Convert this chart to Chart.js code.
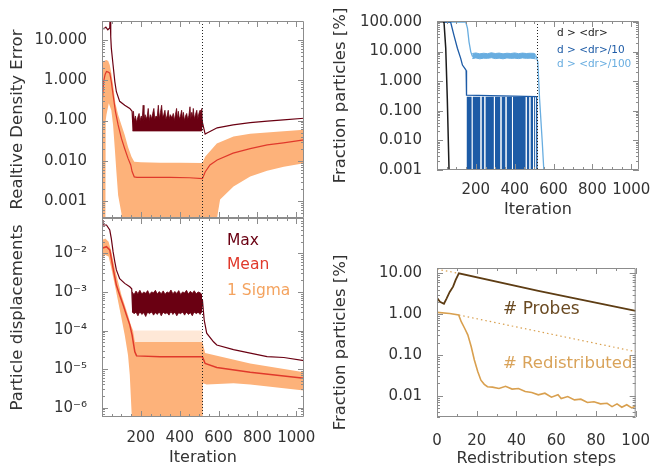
<!DOCTYPE html>
<html>
<head>
<meta charset="utf-8">
<title>Relaxation diagnostics</title>
<script src="https://cdn.jsdelivr.net/npm/chart.js@4.4.0/dist/chart.umd.min.js"></script>
<style>
  body { margin: 0; background: #fff; }
  #wrap { position: relative; width: 657px; height: 468px; }
  #wrap canvas { position: absolute; left: 0; top: 0; }
</style>
</head>
<body>
<div id="wrap">
  <canvas id="densChart" width="657" height="468"></canvas>
  <canvas id="dispChart" width="657" height="468"></canvas>
  <canvas id="fracChart" width="657" height="468"></canvas>
  <canvas id="redisChart" width="657" height="468"></canvas>
</div>
<script>
// ---- tick labels ----
const iterLabels = [200, 400, 600, 800, 1000];
const stepLabels = [0, 20, 40, 60, 80, 100];
const densTicks = [0.001, 0.01, 0.1, 1, 10];
const densTickText = ['0.001', '0.010', '0.100', '1.000', '10.000'];
const dispTicks = [1e-6, 1e-5, 1e-4, 1e-3, 1e-2];
const dispTickText = ['10⁻⁶', '10⁻⁵', '10⁻⁴', '10⁻³', '10⁻²'];
const fracTicks = [0.001, 0.01, 0.1, 1, 10, 100];
const fracTickText = ['0.001', '0.010', '0.100', '1.000', '10.000', '100.000'];
const redisTicks = [0.01, 0.1, 1, 10];
const redisTickText = ['0.01', '0.10', '1.00', '10.00'];

// iteration where the relaxation switches mode (dotted line)
const resetIter = 517;

// ---- relative density error ----
const densMaxIter = [0, 1, 10, 20, 30, 40, 42, 45, 48, 57, 66, 74, 91, 117, 143, 155, 160, 510, 517, 531, 541, 593, 675, 763, 851, 934, 1040];
const densMaxVal = [3.5, 20, 19, 21, 18, 20, 40, 12, 6.3, 2.4, 0.93, 0.52, 0.30, 0.24, 0.20, 0.17, 0.056, 0.056, 0.09, 0.046, 0.049, 0.066, 0.078, 0.089, 0.097, 0.104, 0.114];
const densNoiseIter = [158, 162, 166, 172, 178, 184, 191, 196, 202, 207, 212, 216, 222, 228, 233, 238, 243, 249, 255, 261, 267, 272, 278, 284, 290, 295, 301, 307, 312, 318, 324, 329, 335, 341, 346, 352, 358, 363, 367, 372, 378, 384, 388, 393, 398, 404, 410, 414, 419, 424, 430, 436, 441, 447, 453, 457, 462, 466, 470, 475, 481, 488, 493, 499, 505, 509, 514, 517];
const densNoiseHi = [0.12, 0.17, 0.10, 0.13, 0.09, 0.12, 0.15, 0.10, 0.13, 0.11, 0.24, 0.10, 0.14, 0.11, 0.13, 0.20, 0.10, 0.14, 0.11, 0.15, 0.20, 0.11, 0.13, 0.12, 0.24, 0.11, 0.16, 0.24, 0.12, 0.14, 0.18, 0.11, 0.13, 0.18, 0.11, 0.14, 0.12, 0.13, 0.15, 0.10, 0.14, 0.20, 0.11, 0.17, 0.11, 0.13, 0.18, 0.11, 0.16, 0.10, 0.13, 0.15, 0.11, 0.13, 0.22, 0.11, 0.16, 0.12, 0.20, 0.11, 0.14, 0.18, 0.11, 0.15, 0.18, 0.12, 0.20, 0.09];
const densNoiseLoIter = [158, 517];
const densNoiseLo = [0.056, 0.056];
const densMeanIter = [0, 8, 16, 23, 32, 40, 48, 57, 69, 83, 100, 117, 134, 148, 155, 166, 180, 250, 350, 450, 517, 531, 556, 593, 675, 763, 851, 934, 1040];
const densMeanVal = [0.24, 0.9, 1.4, 1.66, 1.6, 1.5, 0.93, 0.44, 0.17, 0.078, 0.036, 0.020, 0.0115, 0.0079, 0.0054, 0.0040, 0.0039, 0.0039, 0.0039, 0.0038, 0.0036, 0.0053, 0.0079, 0.0105, 0.0155, 0.020, 0.025, 0.028, 0.033];
const densSigHiIter = [0, 5, 15, 23, 32, 40, 48, 57, 69, 83, 100, 117, 134, 152, 166, 200, 300, 400, 517, 531, 591, 677, 763, 900, 1040];
const densSigHiVal = [2.0, 2.9, 3.1, 3.2, 3.0, 2.4, 1.5, 0.77, 0.27, 0.14, 0.078, 0.044, 0.022, 0.0126, 0.0095, 0.0092, 0.0090, 0.0090, 0.0088, 0.0126, 0.027, 0.040, 0.047, 0.053, 0.059];
const densSigLoIter = [0, 16, 19, 23, 35, 48, 57, 66, 74, 83, 100, 117, 582, 591, 608, 677, 763, 850, 936, 1040];
const densSigLoVal = [1e-6, 1e-6, 0.10, 0.14, 0.27, 0.18, 0.078, 0.020, 0.0054, 0.0014, 0.0005, 1e-6, 1e-6, 0.00035, 0.0011, 0.0023, 0.0041, 0.0057, 0.0071, 0.0087];

// ---- particle displacements ----
const dispMaxIter = [0, 5, 23, 40, 48, 57, 66, 74, 91, 117, 143, 153, 158, 510, 517, 526, 539, 574, 591, 677, 763, 850, 936, 1040];
const dispMaxVal = [0.073, 0.054, 0.054, 0.040, 0.024, 0.011, 0.006, 0.0037, 0.0022, 0.00166, 0.00136, 0.0012, 0.0003, 0.0003, 0.00062, 0.00019, 0.000085, 0.000051, 0.000042, 0.000032, 0.000026, 0.000021, 0.000020, 0.0000166];
const dispNoiseIter = [155, 165, 175, 185, 195, 205, 215, 225, 235, 245, 255, 265, 275, 285, 295, 305, 315, 325, 335, 345, 355, 365, 375, 385, 395, 405, 415, 425, 435, 445, 455, 465, 475, 485, 495, 505, 515];
const dispNoiseHi = [1.0e-3, 8.5e-4, 1.05e-3, 9e-4, 1.1e-3, 8.8e-4, 1.0e-3, 9.2e-4, 1.08e-3, 8.6e-4, 1.0e-3, 9.5e-4, 1.1e-3, 8.8e-4, 1.02e-3, 9e-4, 1.06e-3, 8.7e-4, 1.0e-3, 9.3e-4, 1.12e-3, 8.9e-4, 1.03e-3, 9.1e-4, 1.08e-3, 8.6e-4, 1.0e-3, 9.4e-4, 1.1e-3, 8.8e-4, 1.04e-3, 9.2e-4, 1.07e-3, 8.9e-4, 1.0e-3, 9.5e-4, 8.5e-4];
const dispNoiseLo = [3.2e-4, 2.7e-4, 3.0e-4, 2.4e-4, 3.1e-4, 2.6e-4, 2.9e-4, 2.3e-4, 3.0e-4, 2.7e-4, 3.2e-4, 2.5e-4, 2.9e-4, 2.6e-4, 3.1e-4, 2.4e-4, 3.0e-4, 2.7e-4, 2.9e-4, 2.5e-4, 3.2e-4, 2.6e-4, 3.0e-4, 2.4e-4, 2.9e-4, 2.7e-4, 3.1e-4, 2.5e-4, 3.0e-4, 2.6e-4, 2.9e-4, 2.4e-4, 3.1e-4, 2.7e-4, 3.0e-4, 2.6e-4, 3.2e-4];
const dispMeanIter = [0, 23, 40, 48, 57, 74, 91, 109, 126, 143, 155, 169, 178, 300, 517, 531, 591, 763, 1040];
const dispMeanVal = [0.0135, 0.0148, 0.0122, 0.0074, 0.0041, 0.0015, 8.3e-4, 4.6e-4, 2.5e-4, 1.4e-4, 7.6e-5, 2.8e-5, 2.2e-5, 2.1e-5, 2.1e-5, 1.4e-5, 1.1e-5, 8.3e-6, 5.8e-6];
const dispHazeIter = [160, 517];
const dispHazeVal = [1e-4, 1e-4];
const dispSigHiIter = [0, 17, 34, 48, 66, 83, 100, 117, 134, 148, 160, 170, 517, 531, 763, 1040];
const dispSigHiVal = [0.022, 0.024, 0.020, 0.011, 0.0041, 0.0018, 8.3e-4, 4.6e-4, 2.5e-4, 1.4e-4, 1.0e-4, 5e-5, 5e-5, 2.6e-5, 1.4e-5, 8.3e-6];
const dispSigLoIter = [0, 17, 34, 48, 66, 83, 100, 117, 134, 143, 148, 153, 160, 517, 519, 539, 677, 763, 1040];
const dispSigLoVal = [0.0074, 0.009, 0.0082, 0.0041, 0.0015, 5.6e-4, 2.1e-4, 7.6e-5, 2.3e-5, 7e-6, 2.1e-6, 6.5e-7, 1e-8, 1e-8, 4.3e-6, 4.0e-6, 4.3e-6, 4.0e-6, 2.8e-6];

// ---- fraction of particles above displacement thresholds ----
const fracAIter = [0, 36, 45, 53, 62, 66];
const fracAVal = [100, 100, 13, 0.26, 0.001, 1e-5];
const fracBIter = [0, 70, 87, 105, 122, 131, 145, 150, 152, 513, 516];
const fracBVal = [100, 100, 36, 13, 5.9, 3.5, 2.6, 2.3, 0.34, 0.3, 1e-5];
const burstStart = [152, 183, 229, 249, 298, 332, 358, 391, 462, 481, 499, 508];
const burstEnd = [179, 224, 244, 293, 327, 353, 386, 457, 476, 495, 504, 513];
const burstLevel = 0.3;
const fracCIter = [0, 148, 157, 165, 174, 182, 510, 519, 528, 542, 550, 554];
const fracCVal = [100, 100, 61, 21, 9.8, 7.0, 7.0, 4.5, 0.26, 0.0087, 0.001, 1e-5];
const fracCBandIter = [182, 200, 220, 240, 260, 280, 300, 320, 340, 360, 380, 400, 420, 440, 460, 480, 500, 508];
const fracCBandHi = [8.6, 9.0, 8.4, 8.8, 8.5, 9.1, 8.6, 8.9, 8.4, 8.8, 8.6, 9.0, 8.5, 8.9, 8.6, 8.8, 8.7, 8.0];
const fracCBandLo = [5.8, 6.1, 5.7, 6.0, 5.9, 6.2, 5.8, 6.0, 5.7, 6.1, 5.9, 6.0, 5.8, 6.1, 5.9, 6.0, 5.8, 5.6];

// ---- redistribution ----
const probesStep = [0, 1.5, 3.5, 4.8, 6.4, 8.1, 9.4, 11, 51, 100];
const probesVal = [2.5, 2.0, 1.8, 2.4, 3.5, 4.7, 6.9, 10, 3.7, 1.2];
const probesRefStep = [0, 11];
const probesRefVal = [12.6, 10];
const redisStep = [0, 6.4, 10.9, 12.2, 13.9, 15.5, 17.2, 18.8, 20.5, 22.1, 23.8, 25.4, 27.9, 31.2, 34.5, 37.8, 41, 44.4, 47.7, 51, 54.3, 57.6, 60.9, 62.5, 65.8, 69.2, 72.4, 75.7, 79, 82.3, 85.6, 88.1, 90.6, 93, 95.5, 98, 100];
const redisVal = [1.1, 1.03, 0.95, 0.65, 0.45, 0.31, 0.16, 0.075, 0.039, 0.024, 0.019, 0.0166, 0.0162, 0.015, 0.017, 0.0145, 0.015, 0.0126, 0.012, 0.0105, 0.0115, 0.0092, 0.0105, 0.0085, 0.0095, 0.0079, 0.0082, 0.0068, 0.0071, 0.0063, 0.0065, 0.0054, 0.0063, 0.0052, 0.006, 0.005, 0.0056];
const redisRefStep = [11, 100];
const redisRefVal = [0.95, 0.12];

// colours
const maxCol = '#6a0012', meanCol = '#e0392b', sigCol = '#fdb27a';
const blackCol = '#1c1c1c', darkBlue = '#1d5ba6', lightBlue = '#68ade0';
const probesCol = '#5e3d14', redisCol = '#d9a04f';

Chart.defaults.font.family = "'DejaVu Sans', sans-serif";
Chart.defaults.color = '#333';

const pts = (xs, ys) => xs.map((x, i) => ({ x: x, y: ys[i] }));
const near = (a, b) => Math.abs(Math.log10(a) - Math.log10(b)) < 1e-6;
const isDecade = v => Math.abs(Math.log10(v) - Math.round(Math.log10(v))) < 1e-6;
const isWholeSig = v => {
  const m = v / Math.pow(10, Math.floor(Math.log10(v) + 1e-9));
  return Math.abs(m - Math.round(m)) < 1e-6;
};

function line(data, color, extra) {
  return Object.assign({ data: data, borderColor: color, backgroundColor: color, borderWidth: 1.2, pointRadius: 0, fill: false, tension: 0 }, extra || {});
}

// box, inward ticks, dotted reset line and text notes
const frame = {
  id: 'frame',
  afterDatasetsDraw(chart, args, opts) {
    const { ctx, chartArea: a } = chart;
    const xs = chart.scales.x, ys = chart.scales.y;
    ctx.save();
    if (opts.reset != null) {
      const px = Math.round(xs.getPixelForValue(opts.reset)) + 0.5;
      ctx.strokeStyle = '#222';
      ctx.lineWidth = 1;
      ctx.setLineDash([1, 2]);
      ctx.beginPath();
      ctx.moveTo(px, a.top);
      ctx.lineTo(px, a.bottom);
      ctx.stroke();
      ctx.setLineDash([]);
    }
    ctx.strokeStyle = '#8c8c8c';
    ctx.lineWidth = 1;
    ctx.beginPath();
    xs.ticks.forEach(t => {
      const px = Math.round(xs.getPixelForValue(t.value)) + 0.5;
      const len = t.value % opts.xMajor === 0 ? 6 : 3;
      ctx.moveTo(px, a.bottom); ctx.lineTo(px, a.bottom - len);
      ctx.moveTo(px, a.top); ctx.lineTo(px, a.top + len);
    });
    ys.ticks.forEach(t => {
      if (!isWholeSig(t.value)) return;
      const py = Math.round(ys.getPixelForValue(t.value)) + 0.5;
      const len = isDecade(t.value) ? 6 : 3;
      ctx.moveTo(a.left, py); ctx.lineTo(a.left + len, py);
      ctx.moveTo(a.right, py); ctx.lineTo(a.right - len, py);
    });
    ctx.rect(a.left + 0.5, a.top + 0.5, a.width - 1, a.height - 1);
    ctx.stroke();
    ctx.textBaseline = 'middle';
    ctx.textAlign = 'left';
    (opts.notes || []).forEach(n => {
      ctx.fillStyle = n.color;
      ctx.font = n.size + "px 'DejaVu Sans', sans-serif";
      ctx.fillText(n.text, a.left + n.dx, a.top + n.dy);
    });
    ctx.restore();
  }
};

function panelOptions(o) {
  return {
    responsive: false,
    animation: false,
    devicePixelRatio: 1,
    layout: { padding: o.pad },
    plugins: { legend: { display: false }, tooltip: { enabled: false }, frame: o.frame },
    scales: {
      x: {
        type: 'linear', min: o.xMin, max: o.xMax,
        grid: { display: false }, border: { display: false },
        ticks: {
          stepSize: o.xStep, autoSkip: false, maxRotation: 0, minRotation: 0,
          includeBounds: false, padding: o.xPad, font: { size: 15 },
          callback: v => o.xLabels.includes(v) ? String(v) : ''
        },
        title: o.xTitle ? { display: true, text: o.xTitle, font: { size: 16 }, padding: 0 } : { display: false },
        afterFit: s => { s.height = o.xH; }
      },
      y: {
        type: 'logarithmic', min: o.yMin, max: o.yMax,
        grid: { display: false }, border: { display: false },
        ticks: {
          autoSkip: false, padding: 7, font: { size: 15 },
          callback: v => {
            const i = o.yTicks.findIndex(t => near(t, v));
            return i < 0 ? '' : o.yText[i];
          }
        },
        title: { display: true, text: o.yTitle, font: { size: 16.5 }, padding: 0 },
        afterFit: s => { s.width = o.yW; }
      }
    }
  };
}

// relative density error (top left)
new Chart(document.getElementById('densChart'), {
  type: 'line',
  data: {
    datasets: [
      line(pts(densMeanIter, densMeanVal), meanCol),
      line(pts(densMaxIter, densMaxVal), maxCol),
      line(pts(densNoiseIter, densNoiseHi), maxCol, { borderWidth: 0.8, fill: '+1' }),
      line(pts(densNoiseLoIter, densNoiseLo), maxCol, { borderWidth: 0.8 }),
      line(pts(densSigHiIter, densSigHiVal), sigCol, { borderWidth: 0, fill: '+1' }),
      line(pts(densSigLoIter, densSigLoVal), sigCol, { borderWidth: 0 })
    ]
  },
  options: panelOptions({
    pad: { left: 8, top: 21, right: 353, bottom: 250 },
    xMin: 0, xMax: 1040, xStep: 50, xLabels: [], xPad: 4, xH: 0,
    yMin: 3.8e-4, yMax: 29.7, yTicks: densTicks, yText: densTickText,
    yTitle: 'Realtive Density Error', yW: 94,
    frame: { reset: resetIter, xMajor: 200 }
  }),
  plugins: [frame]
});

// particle displacements (bottom left)
new Chart(document.getElementById('dispChart'), {
  type: 'line',
  data: {
    datasets: [
      line(pts(dispMeanIter, dispMeanVal), meanCol, { borderWidth: 1.5 }),
      line(pts(dispMaxIter, dispMaxVal), maxCol),
      line(pts(dispNoiseIter, dispNoiseHi), maxCol, { borderWidth: 0.8, fill: '+1' }),
      line(pts(dispNoiseIter, dispNoiseLo), maxCol, { borderWidth: 0.8 }),
      line(pts(dispHazeIter, dispHazeVal), 'rgba(253,178,122,0.3)', { borderWidth: 0, fill: '+1' }),
      line(pts(dispSigHiIter, dispSigHiVal), sigCol, { borderWidth: 0, fill: '+1' }),
      line(pts(dispSigLoIter, dispSigLoVal), sigCol, { borderWidth: 0 })
    ]
  },
  options: panelOptions({
    pad: { left: 8, top: 218, right: 353, bottom: 1 },
    xMin: 0, xMax: 1040, xStep: 50, xLabels: iterLabels, xPad: 4, xH: 50,
    xTitle: 'Iteration',
    yMin: 5.75e-7, yMax: 0.082, yTicks: dispTicks, yText: dispTickText,
    yTitle: 'Particle displacements', yW: 94,
    frame: {
      reset: resetIter, xMajor: 200,
      notes: [
        { text: 'Max', color: maxCol, size: 15.5, dx: 125, dy: 23 },
        { text: 'Mean', color: meanCol, size: 15.5, dx: 125, dy: 47 },
        { text: '1 Sigma', color: '#f4a35f', size: 15.5, dx: 125, dy: 73 }
      ]
    }
  }),
  plugins: [frame]
});

// fraction of particles moving more than a threshold (top right)
const burstData = [];
burstStart.forEach((s, i) => {
  burstData.push({ x: s, y: burstLevel }, { x: burstEnd[i], y: burstLevel });
  if (i < burstStart.length - 1) burstData.push({ x: (burstEnd[i] + burstStart[i + 1]) / 2, y: null });
});

new Chart(document.getElementById('fracChart'), {
  type: 'line',
  data: {
    datasets: [
      line(pts(fracAIter, fracAVal), blackCol, { borderWidth: 1.5 }),
      line(pts(fracBIter, fracBVal), darkBlue, { borderWidth: 1.3 }),
      line(burstData, darkBlue, { borderWidth: 0, fill: 'start', spanGaps: false }),
      line(pts(fracCIter, fracCVal), lightBlue, { borderWidth: 1.3 }),
      line(pts(fracCBandIter, fracCBandHi), lightBlue, { borderWidth: 1, fill: '+1' }),
      line(pts(fracCBandIter, fracCBandLo), lightBlue, { borderWidth: 1 })
    ]
  },
  options: panelOptions({
    pad: { left: 331, top: 21, right: 18, bottom: 249 },
    xMin: 0, xMax: 1040, xStep: 50, xLabels: iterLabels, xPad: 3, xH: 49,
    xTitle: 'Iteration',
    yMin: 0.001, yMax: 108, yTicks: fracTicks, yText: fracTickText,
    yTitle: 'Fraction particles [%]', yW: 106,
    frame: {
      reset: resetIter, xMajor: 200,
      notes: [
        { text: 'd > <dr>', color: blackCol, size: 10.5, dx: 120, dy: 12 },
        { text: 'd > <dr>/10', color: darkBlue, size: 10.5, dx: 120, dy: 29 },
        { text: 'd > <dr>/100', color: lightBlue, size: 10.5, dx: 120, dy: 43 }
      ]
    }
  }),
  plugins: [frame]
});

// probes and redistributed particles per redistribution step (bottom right)
new Chart(document.getElementById('redisChart'), {
  type: 'line',
  data: {
    datasets: [
      line(pts(probesStep, probesVal), probesCol, { borderWidth: 1.8 }),
      line(pts(probesRefStep, probesRefVal), redisCol, { borderWidth: 1.2, borderDash: [1.5, 3] }),
      line(pts(redisStep, redisVal), redisCol, { borderWidth: 1.6 }),
      line(pts(redisRefStep, redisRefVal), redisCol, { borderWidth: 1.2, borderDash: [1.5, 3] })
    ]
  },
  options: panelOptions({
    pad: { left: 331, top: 268, right: 18, bottom: 0 },
    xMin: 0, xMax: 100, xStep: 10, xLabels: stepLabels, xPad: 7, xH: 51,
    xTitle: 'Redistribution steps',
    yMin: 0.003, yMax: 13.5, yTicks: redisTicks, yText: redisTickText,
    yTitle: 'Fraction particles [%]', yW: 106,
    frame: {
      xMajor: 20,
      notes: [
        { text: '# Probes', color: '#6a4a22', size: 17, dx: 66, dy: 42 },
        { text: '# Redistributed', color: '#d9a35a', size: 16.5, dx: 66, dy: 96 }
      ]
    }
  }),
  plugins: [frame]
});
</script>
</body>
</html>
